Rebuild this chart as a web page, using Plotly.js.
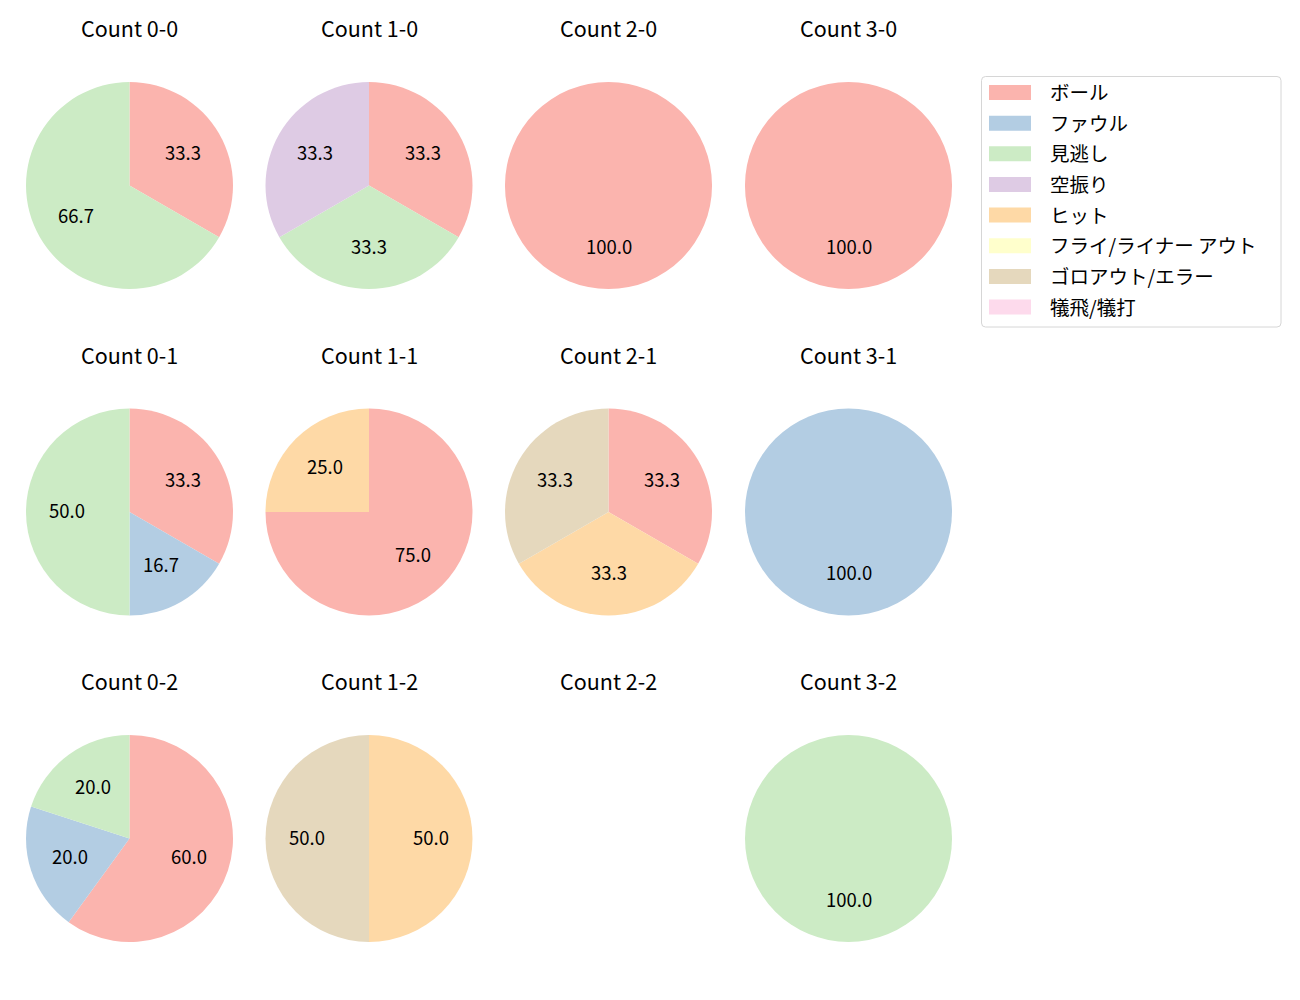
<!DOCTYPE html>
<html>
<head>
<meta charset="utf-8">
<script src="https://cdn.plot.ly/plotly-3.0.1.min.js"></script>
<style>html,body{margin:0;padding:0;background:#fff;}#chart{width:1300px;height:1000px;}</style>
</head>
<body>
<div id="chart"></div>
<script>
// ---- data ----
const categories = ['ボール','ファウル','見逃し','空振り','ヒット','フライ/ライナー アウト','ゴロアウト/エラー','犠飛/犠打'];
const colors = ['#fbb4ae','#b3cde3','#ccebc5','#decbe4','#fed9a6','#ffffcc','#e5d8bd','#fddaec'];
const countLabels = ['0-0','1-0','2-0','3-0','0-1','1-1','2-1','3-1','0-2','1-2','2-2','3-2'];
const c00 = [1,0,2,0,0,0,0,0];
const c10 = [1,0,1,1,0,0,0,0];
const c20 = [1,0,0,0,0,0,0,0];
const c30 = [1,0,0,0,0,0,0,0];
const c01 = [2,1,3,0,0,0,0,0];
const c11 = [3,0,0,0,1,0,0,0];
const c21 = [1,0,0,0,1,0,1,0];
const c31 = [0,1,0,0,0,0,0,0];
const c02 = [3,1,1,0,0,0,0,0];
const c12 = [0,0,0,0,1,0,1,0];
const c22 = [0,0,0,0,0,0,0,0];
const c32 = [0,0,1,0,0,0,0,0];
const countValues = [c00,c10,c20,c30,c01,c11,c21,c31,c02,c12,c22,c32];

// ---- layout geometry ----
const W = 1300, H = 1000;
const colCenters = [129.5, 369, 608.5, 848.5];
const rowCenters = [185.5, 512, 838.5];
const R = 103.5;
const FONT = '"Noto Sans CJK JP", "Noto Sans", sans-serif';

const traces = [];
const annotations = [];
const shapes = [];

countValues.forEach((vals, i) => {
  const cx = colCenters[i % 4], cy = rowCenters[Math.floor(i / 4)];
  annotations.push({
    text: 'Count ' + countLabels[i], x: cx / W, y: 1 - (cy - 158) / H,
    xref: 'paper', yref: 'paper', xanchor: 'center', yanchor: 'middle',
    showarrow: false, font: {family: FONT, size: 21.5, color: '#000'}
  });
  const total = vals.reduce((a, b) => a + b, 0);
  if (total === 0) return;
  traces.push({
    type: 'pie', labels: categories, values: vals, sort: false,
    direction: 'clockwise', rotation: 0, textinfo: 'none', hoverinfo: 'skip',
    marker: {colors: colors, line: {width: 0}}, showlegend: false,
    domain: {x: [(cx - R) / W, (cx + R) / W], y: [1 - (cy + R) / H, 1 - (cy - R) / H]}
  });
  let cum = 0;
  vals.forEach(v => {
    if (v > 0) {
      const th = 2 * Math.PI * (cum + v / 2) / total;
      const px = cx + 0.6 * R * Math.sin(th);
      const py = cy - 0.6 * R * Math.cos(th) - 2;
      annotations.push({
        text: (100 * v / total).toFixed(1), x: px / W, y: 1 - py / H,
        xref: 'paper', yref: 'paper', xanchor: 'center', yanchor: 'middle',
        showarrow: false, font: {family: FONT, size: 18.5, color: '#000'}
      });
    }
    cum += v;
  });
});

// ---- legend (matplotlib style) ----
const Lx0 = 981.5, Lx1 = 1281, Ly0 = 76.5, Ly1 = 327, rr = 4;
const X = p => p / W, Y = p => 1 - p / H;
shapes.push({
  type: 'path', xref: 'paper', yref: 'paper',
  path: `M ${X(Lx0 + rr)} ${Y(Ly0)} L ${X(Lx1 - rr)} ${Y(Ly0)} Q ${X(Lx1)} ${Y(Ly0)} ${X(Lx1)} ${Y(Ly0 + rr)} ` +
        `L ${X(Lx1)} ${Y(Ly1 - rr)} Q ${X(Lx1)} ${Y(Ly1)} ${X(Lx1 - rr)} ${Y(Ly1)} ` +
        `L ${X(Lx0 + rr)} ${Y(Ly1)} Q ${X(Lx0)} ${Y(Ly1)} ${X(Lx0)} ${Y(Ly1 - rr)} ` +
        `L ${X(Lx0)} ${Y(Ly0 + rr)} Q ${X(Lx0)} ${Y(Ly0)} ${X(Lx0 + rr)} ${Y(Ly0)} Z`,
  line: {color: '#d6d6d6', width: 1}, fillcolor: 'rgba(255,255,255,0.8)'
});
categories.forEach((c, k) => {
  const yc = 92.5 + k * 30.65;
  shapes.push({
    type: 'rect', xref: 'paper', yref: 'paper',
    x0: X(989), x1: X(1031), y0: Y(yc - 7.5), y1: Y(yc + 7.5),
    fillcolor: colors[k], line: {width: 0}
  });
  annotations.push({
    text: c, x: X(1048), y: Y(yc - 1), xref: 'paper', yref: 'paper',
    xanchor: 'left', yanchor: 'middle', showarrow: false,
    font: {family: FONT, size: 19.5, color: '#000'}
  });
});

const layout = {
  width: W, height: H, autosize: false,
  margin: {l: 0, r: 0, t: 0, b: 0, pad: 0},
  paper_bgcolor: '#fff', plot_bgcolor: '#fff',
  showlegend: false, annotations: annotations, shapes: shapes
};
Plotly.newPlot('chart', traces, layout, {staticPlot: true});
</script>
</body>
</html>
